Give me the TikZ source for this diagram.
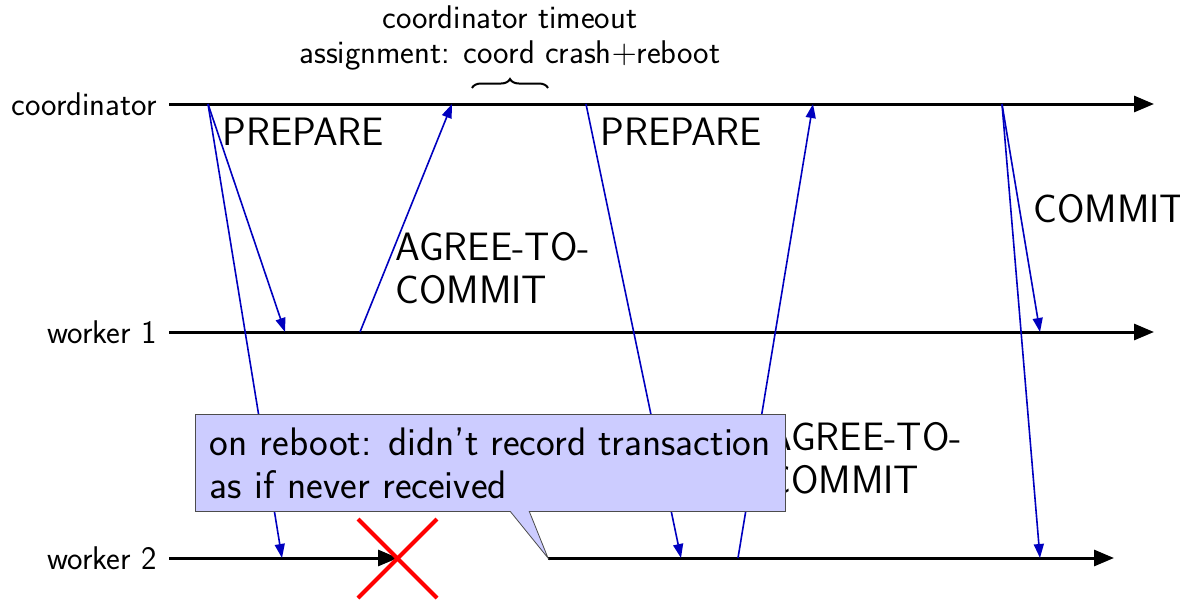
\documentclass[tikz,border=0pt]{standalone}
\usetikzlibrary{arrows.meta,decorations.pathreplacing,shapes.callouts}
\begin{document}
\sffamily
\begin{tikzpicture}[x=0.5pt,y=-0.5pt,
  lifeline/.style={line width=1.5pt,-{Triangle[length=10pt,width=8pt]}},
  msg/.style={blue!75!black,line width=0.8pt,-{Triangle[length=7pt,width=5pt]}},
  who/.style={anchor=east,inner sep=0pt,font=\fontsize{16.4}{17.5}\selectfont},
  msglabel/.style={inner sep=0pt,align=left,font=\fontsize{19.8}{21.5}\selectfont},
  note/.style={rectangle callout,draw=black!70,fill=blue!20,align=justify,
    text width=280.5pt,inner xsep=7.25pt,inner ysep=0pt,font=\fontsize{19.9}{21.5}\selectfont},
  crash/.style={red,line width=2pt}]
\useasboundingbox (0,0) rectangle (1180,601);

% lifeline labels
\node[who] (lc) at (157,104) {coordinator};
\node[who] (l1) at (157,332) {worker 1};
\node[who] (l2) at (157,558) {worker 2};

% lifeline ends
\coordinate (ce) at (1154,104);
\coordinate (w1e) at (1154,332);
\coordinate (w2x) at (398,558);
\coordinate (w2s) at (548,558);
\coordinate (w2e) at (1114,558);

\draw[lifeline] ([xshift=6pt]lc.east) -- (ce);
\draw[lifeline] ([xshift=6pt]l1.east) -- (w1e);
\draw[lifeline] ([xshift=6pt]l2.east) -- (w2x);
\draw[lifeline] (w2s) -- (w2e);

% message end points
\coordinate (c1) at (208,104);
\coordinate (c2) at (452,104);
\coordinate (c3) at (586,104);
\coordinate (c4) at (813,104);
\coordinate (c5) at (1002,104);
\coordinate (a1) at (285,332);
\coordinate (a2) at (360,332);
\coordinate (a3) at (1040,332);
\coordinate (b1) at (282,558);
\coordinate (b2) at (681,558);
\coordinate (b3) at (738,558);
\coordinate (b4) at (1040,558);

\draw[msg] (c1) -- (a1);
\draw[msg] (c1) -- (b1);
\draw[msg] (a2) -- (c2);
\draw[msg] (c3) -- (b2);
\draw[msg] (b3) -- (c4);
\draw[msg] (c5) -- (a3);
\draw[msg] (c5) -- (b4);

% message labels (base = last line)
\node[msglabel,anchor=base west] (p1) at (222,145) {PREPARE};
\node[msglabel,anchor=base west] (p2) at (600,145) {PREPARE};
\node[msglabel,anchor=base west] (g1) at (395,303) {AGREE-TO-\\COMMIT};
\node[msglabel,anchor=base west] (g2) at (767,493) {AGREE-TO-\\COMMIT};
\node[msglabel,anchor=base west] (cm) at (1033,222) {COMMIT};

% timeout annotation
\node[inner sep=0pt,align=center,font=\fontsize{16.4}{17.5}\selectfont,anchor=base] (to) at (510,63)
  {coordinator timeout\\assignment: coord crash$+$reboot};
\coordinate (bl) at (472,88);
\coordinate (br) at (548,88);
\draw[line width=1pt,decorate,decoration={brace,amplitude=4.5pt}] (bl) -- (br);

% reboot note
\node[note,anchor=north west,callout absolute pointer={(w2s)},callout pointer width=9.5pt,
  minimum height=48.5pt] (n) at (195,414)
  {on reboot: didn't record transaction as if never received};

% crash mark
\coordinate (x1) at (358,519);
\coordinate (x2) at (437,598);
\coordinate (x3) at (358,598);
\coordinate (x4) at (437,519);
\draw[crash] (x1) -- (x2);
\draw[crash] (x3) -- (x4);
\end{tikzpicture}
\end{document}
